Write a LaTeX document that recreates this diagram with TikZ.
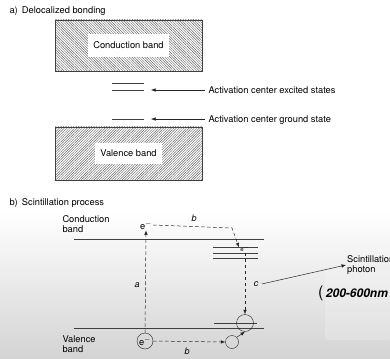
\documentclass[tikz,border=0pt]{standalone}
\usepackage{fontspec}
\setmainfont{TeX Gyre Heros}
\usetikzlibrary{patterns.meta,arrows.meta,positioning}

\begin{document}
\begin{tikzpicture}[x=1pt, y=-1pt, font=\fontsize{9.3}{10.5}\selectfont,
        band/.style = {draw=black!75, minimum width=147pt, inner sep=0pt},
        tag/.style = {fill=white, inner sep=0pt},
        lvl/.style = {draw=black!75, line width=0.6pt},
        pt/.style = {-{Latex[length=4.5pt,width=3.5pt]}, black!85, line width=0.5pt},
        jump/.style = {pt, dash pattern=on 3.5pt off 2.5pt},
        orb/.style = {circle, draw=black!85, inner sep=0pt},
        lit/.style = {font=\fontsize{9}{10}\selectfont\itshape}]
    \useasboundingbox (0,0) rectangle (390,358);
    \shade[top color=white, bottom color=black!17] (0,212) rectangle (390,358);
    \fill[white, opacity=0.2, rounded corners=3pt] (325,270) rectangle (392,340);

    % a) delocalized bonding
    \node[anchor=west] (ta) at (6,11) {a)\, Delocalized bonding};
    \node[band, minimum height=51pt, pattern={Lines[angle=-45,distance=1.8pt,line width=0.45pt]}, pattern color=black!60] (cb) at (128.5,45.5) {};
    \node[tag, minimum width=81pt, minimum height=23pt] at (cb) {Conduction band};
    \node[band, minimum height=53pt, pattern={Lines[angle=45,distance=1.8pt,line width=0.45pt]}, pattern color=black!60] (vb) at (128.5,153.5) {};
    \node[tag, minimum width=67pt, minimum height=21pt] at (vb) {Valence band};

    \draw[lvl] (112,83) -- (144,83);
    \draw[lvl] (112,90) coordinate (ex1) -- (144,90) coordinate (ex2);
    \draw[lvl] (112,119) coordinate (gs1) -- (144,119) coordinate (gs2);

    \node[anchor=west] (exc) at (205,90) {Activation center excited states};
    \node[anchor=west] (gnd) at (205,120) {Activation center ground state};
    \draw[pt] (exc.west) -- ([xshift=7pt]ex2);
    \draw[pt] (gnd.west |- gs2) -- ([xshift=7pt]gs2);

    % b) scintillation process
    \node[anchor=west] (tb) at (6,203) {b)\, Scintillation process};
    \node[anchor=west, align=left] at (59,224) {Conduction\\band};
    \node[anchor=west, align=left] at (59,344) {Valence\\band};

    \draw[lvl] (74,239) -- (264,239);
    \draw[lvl] (74,328) -- (264,328);
    \foreach \y in {247,253,258}
        \draw[lvl] (213,\y) -- (258,\y);
    \draw[lvl] (214,323) -- (257,323);

    \node[inner sep=1pt] (etop) at (146,225) {e$^-$};
    \node[font=\fontsize{6}{6}\selectfont, inner sep=0.5pt] (eex) at (245,249) {e$^-$};
    \node[orb, minimum size=16pt] (e1) at (145,341) {e$^-$};
    \node[orb, minimum size=13pt] (h1) at (232,342) {};
    \node[orb, minimum size=17pt] (h2) at (245,323) {};

    \coordinate (bk) at (232,228);
    \draw[jump] (e1.north) -- (etop.south);
    \draw[jump] (etop.east) -- (bk) -- ([xshift=-6pt,yshift=-2pt]eex.north);
    \draw[jump] (eex.south) -- (h2.north);
    \draw[jump] (e1.east) -- (h1.west);
    \draw[pt] (h1.north east) -- (h2.south);

    \node[lit] at (137,285) {a};
    \node[lit] at (194,218) {b};
    \node[lit] at (187,351) {b};
    \node[lit] (c) at (256,284) {c};

    \node[anchor=west, align=left, inner sep=1pt] (ph) at (346,265) {Scintillation\\photon};
    \draw[pt] (c.east) -- (ph.west);
    \node[anchor=west, inner sep=0pt, font=\fontsize{16}{16}\selectfont] (hb) at (318,293) {(};
    \node[anchor=west, inner sep=0pt, xshift=2pt, font=\fontsize{12}{12}\selectfont\bfseries\itshape] at (hb.east) {200-600nm};
\end{tikzpicture}
\end{document}
